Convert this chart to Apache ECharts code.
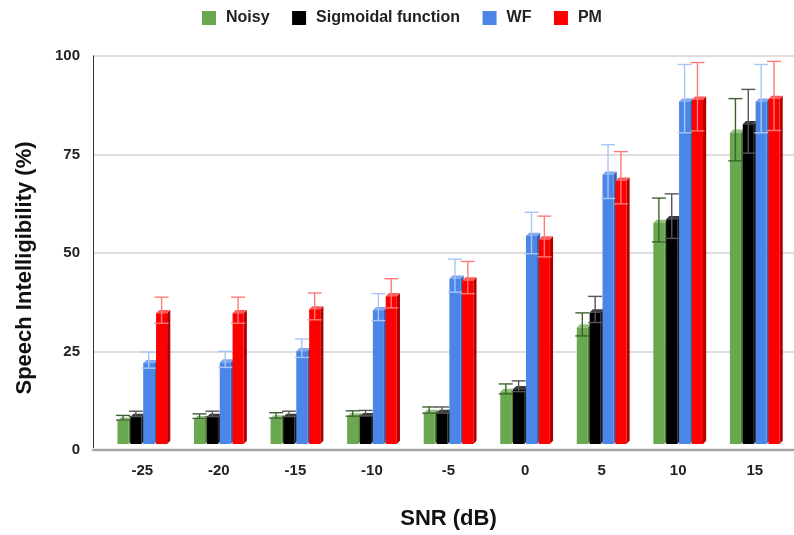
<!DOCTYPE html>
<html>
<head>
<meta charset="utf-8">
<script src="https://cdn.jsdelivr.net/npm/echarts@6/dist/echarts.min.js"></script>
<style>
  html, body { margin: 0; padding: 0; background: #ffffff; }
  #chart { width: 794px; height: 535px; }
</style>
</head>
<body>
<div id="chart"></div>
<script>
// SNR conditions (dB)
const snrLabels = ['-25', '-20', '-15', '-10', '-5', '0', '5', '10', '15'];
const yTicks = [0, 25, 50, 75, 100];

// Speech intelligibility (%) per method
const noisy      = [5.8, 6.2, 6.4, 6.9, 7.8, 13.3, 30.1, 57.3, 80.8];
const sigmoidal  = [6.8, 6.8, 6.8, 7.0, 7.8, 14.0, 34.0, 58.3, 83.0];
const wf         = [20.8, 21.0, 23.9, 34.6, 42.8, 53.9, 69.9, 88.9, 88.9];
const pm         = [33.8, 33.8, 34.8, 38.2, 42.3, 53.0, 68.3, 89.4, 89.6];

// Error bar half-lengths
const noisyErr     = [0.6, 0.6, 0.7, 0.7, 0.8, 1.3, 3.0, 5.7, 8.1];
const sigmoidalErr = [0.7, 0.7, 0.7, 0.7, 0.8, 1.4, 3.4, 5.8, 8.3];
const wfErr        = [2.1, 2.1, 2.4, 3.5, 4.3, 5.4, 7.0, 8.9, 8.9];
const pmErr        = [3.4, 3.4, 3.5, 3.8, 4.2, 5.3, 6.8, 8.9, 9.0];

const methods = [
  { name: 'Noisy', values: noisy, errs: noisyErr,
    front: '#6aa84f', top: '#93c47d', side: '#4e7f3a', err: '#3f6130' },
  { name: 'Sigmoidal function', values: sigmoidal, errs: sigmoidalErr,
    front: '#000000', top: '#3a3a3a', side: '#1a1a1a', err: '#555555' },
  { name: 'WF', values: wf, errs: wfErr,
    front: '#4a86e8', top: '#7ea8ef', side: '#3563ad', err: '#a9c5f5' },
  { name: 'PM', values: pm, errs: pmErr,
    front: '#ff0000', top: '#ff5a5a', side: '#b00000', err: '#ff7b7b' }
];

const DEPTH = 3.2;    // pseudo-3D extrusion of each bar
const FRONT_DROP = 3; // front face sits slightly in front of (below) the value plane
const CAP = 7;        // half width of error bar caps

function renderBar(k, m) {
  return function (params, api) {
    const cat = api.value(0);
    const v = api.value(1);
    const e = api.value(2);
    const topPt = api.coord([cat, v]);
    const basePt = api.coord([cat, 0]);
    const catW = api.size([1, 0])[0];
    const pitch = catW * 0.168;
    const w = pitch * 0.86;
    const cx = topPt[0] + (k - 1.5) * pitch;
    const x0 = cx - w / 2, x1 = cx + w / 2;
    const yT = topPt[1] + FRONT_DROP, yB = basePt[1] + 4;
    const eTop = api.coord([cat, v + e])[1];
    const eBot = api.coord([cat, v - e])[1];
    const errStyle = { stroke: m.err, lineWidth: 1.4 };
    return {
      type: 'group',
      children: [
        { type: 'polygon', shape: { points: [[x1, yT], [x1 + DEPTH, yT - DEPTH], [x1 + DEPTH, yB - DEPTH], [x1, yB]] },
          style: { fill: m.side } },
        { type: 'polygon', shape: { points: [[x0, yT], [x0 + DEPTH, yT - DEPTH], [x1 + DEPTH, yT - DEPTH], [x1, yT]] },
          style: { fill: m.top } },
        { type: 'rect', shape: { x: x0, y: yT, width: w, height: yB - yT },
          style: { fill: m.front } },
        { type: 'line', shape: { x1: cx, y1: eTop, x2: cx, y2: eBot }, style: errStyle },
        { type: 'line', shape: { x1: cx - CAP, y1: eTop, x2: cx + CAP, y2: eTop }, style: errStyle },
        { type: 'line', shape: { x1: cx - CAP, y1: eBot, x2: cx + CAP, y2: eBot }, style: errStyle }
      ]
    };
  };
}

const font = 'Liberation Sans, Arial, sans-serif';

const chart = echarts.init(document.getElementById('chart'), null, { renderer: 'canvas' });
chart.setOption({
  animation: false,
  backgroundColor: '#ffffff',
  legend: {
    top: 5, left: 197,
    itemWidth: 14, itemHeight: 14, itemGap: 22.5,
    icon: 'rect',
    textStyle: { fontFamily: font, fontWeight: 'bold', fontSize: 16, color: '#222', padding: [0, 0, 0, 5] },
    data: methods.map(m => m.name)
  },
  grid: [
    { left: 93, right: 0, top: 56, bottom: 85 },
    { left: 104, right: 1, top: 56, bottom: 85 }
  ],
  xAxis: [
    { gridIndex: 0, type: 'value', min: 0, max: 1, position: 'bottom', offset: 2.5, z: 0,
      axisLine: { show: true, lineStyle: { color: '#ebebeb', width: 4 } },
      axisTick: { show: false }, axisLabel: { show: false }, splitLine: { show: false } },
    { gridIndex: 0, type: 'value', min: 0, max: 1, position: 'bottom', z: 0,
      axisLine: { show: true, lineStyle: { color: '#8a8a8a', width: 1.5 } },
      axisTick: { show: false }, axisLabel: { show: false }, splitLine: { show: false } },
    { gridIndex: 1, type: 'category', data: snrLabels, position: 'bottom',
      axisLine: { show: false }, axisTick: { show: false },
      axisLabel: { margin: 23, fontFamily: font, fontWeight: 'bold', fontSize: 15, color: '#222' },
      name: 'SNR (dB)', nameLocation: 'middle', nameGap: 68,
      nameTextStyle: { fontFamily: font, fontWeight: 'bold', fontSize: 22, color: '#111' } }
  ],
  yAxis: [
    { gridIndex: 0, type: 'value', min: yTicks[0], max: yTicks[yTicks.length - 1], interval: 25, z: 0,
      axisLine: { show: true, lineStyle: { color: '#333', width: 1 } },
      axisTick: { show: false },
      axisLabel: { margin: 13, fontFamily: font, fontWeight: 'bold', fontSize: 15, color: '#222' },
      splitLine: { show: true, lineStyle: { color: '#dedede', width: 2 } },
      name: 'Speech Intelligibility (%)', nameLocation: 'middle', nameGap: 57,
      nameTextStyle: { fontFamily: font, fontWeight: 'bold', fontSize: 22, color: '#111', padding: [0, 30, 0, 0] } },
    { gridIndex: 1, type: 'value', min: 0, max: 100, show: false }
  ],
  series: methods.map((m, k) => ({
    name: m.name,
    type: 'custom',
    xAxisIndex: 2,
    yAxisIndex: 1,
    clip: false,
    z: 10,
    itemStyle: { color: m.front },
    renderItem: renderBar(k, m),
    encode: { x: 0, y: 1 },
    data: m.values.map((v, i) => [i, v, m.errs[i]])
  }))
});
</script>
</body>
</html>
